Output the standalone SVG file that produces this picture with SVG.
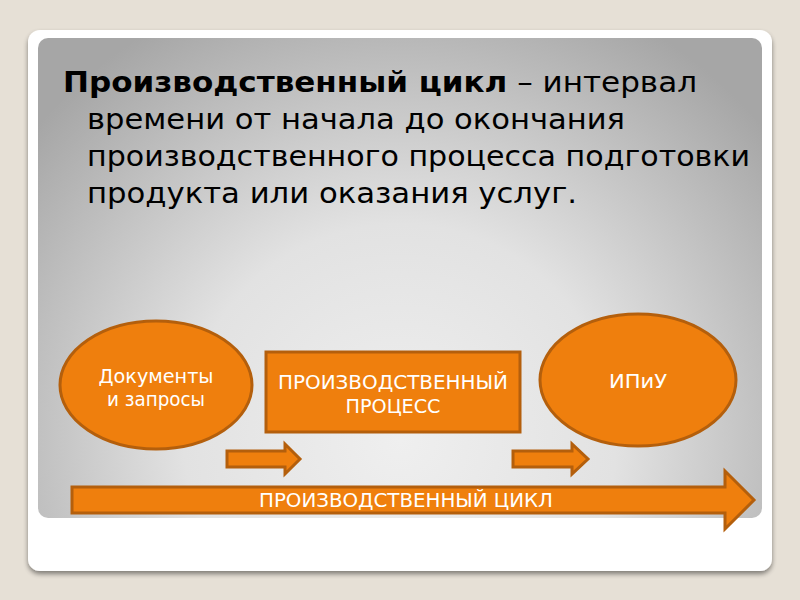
<svg xmlns="http://www.w3.org/2000/svg" width="800" height="600" viewBox="0 0 800 600">
<defs>
<radialGradient id="bg" cx="400" cy="440" r="480" gradientUnits="userSpaceOnUse">
<stop offset="0" stop-color="#efefef"/>
<stop offset="0.45" stop-color="#e2e2e2"/>
<stop offset="1" stop-color="#a6a6a6"/>
</radialGradient>
<filter id="sh" x="-5%" y="-5%" width="110%" height="115%">
<feGaussianBlur in="SourceAlpha" stdDeviation="2.5"/>
<feOffset dx="0" dy="3"/>
<feComponentTransfer><feFuncA type="linear" slope="0.45"/></feComponentTransfer>
<feMerge><feMergeNode/><feMergeNode in="SourceGraphic"/></feMerge>
</filter>
</defs>
<style>
.shape{fill:#ef7f0d;stroke:#b45f0c;stroke-width:3}
.lbl{font-family:"DejaVu Sans Condensed","DejaVu Sans",sans-serif;fill:#ffffff;text-anchor:middle;font-size:20px}
.body{font-family:"DejaVu Sans Condensed","DejaVu Sans",sans-serif;fill:#000000;font-size:29px}
</style>
<rect width="800" height="600" fill="#e6e0d6"/>
<rect x="28" y="30" width="744" height="541" rx="12" fill="#ffffff" filter="url(#sh)"/>
<rect x="38" y="38" width="724" height="480" rx="10" fill="url(#bg)"/>
<g id="title">
<text class="body" x="63" y="92" textLength="634" lengthAdjust="spacingAndGlyphs"><tspan font-weight="bold">Производственный цикл</tspan> – интервал</text>
<text class="body" x="87" y="129" textLength="538" lengthAdjust="spacingAndGlyphs">времени от начала до окончания</text>
<text class="body" x="87" y="166" textLength="663" lengthAdjust="spacingAndGlyphs">производственного процесса подготовки</text>
<text class="body" x="87" y="203" textLength="490" lengthAdjust="spacingAndGlyphs">продукта или оказания услуг.</text>
</g>
<g id="docs">
<ellipse class="shape" cx="156" cy="385" rx="96" ry="64"/>
<text class="lbl" x="156" y="383" textLength="115" lengthAdjust="spacingAndGlyphs">Документы</text>
<text class="lbl" x="156" y="406" textLength="98" lengthAdjust="spacingAndGlyphs">и запросы</text>
</g>
<g id="process">
<rect class="shape" x="266" y="352" width="254" height="80"/>
<text class="lbl" x="393" y="389" textLength="230" lengthAdjust="spacingAndGlyphs">ПРОИЗВОДСТВЕННЫЙ</text>
<text class="lbl" x="393" y="413" textLength="95" lengthAdjust="spacingAndGlyphs">ПРОЦЕСС</text>
</g>
<g id="ipiu">
<ellipse class="shape" cx="638" cy="380" rx="98" ry="66"/>
<text class="lbl" x="638" y="388" textLength="58" lengthAdjust="spacingAndGlyphs">ИПиУ</text>
</g>
<g id="connectors">
<polygon class="shape" points="227,451 285,451 285,444 300,459 285,474 285,467 227,467"/>
<polygon class="shape" points="513,451 572,451 572,444 588,459 572,474 572,467 513,467"/>
</g>
<g id="cycle">
<polygon class="shape" points="72,487 725,487 725,471 754,500 725,529 725,513 72,513"/>
<text class="lbl" x="406" y="507" textLength="294" lengthAdjust="spacingAndGlyphs">ПРОИЗВОДСТВЕННЫЙ ЦИКЛ</text>
</g>
</svg>
